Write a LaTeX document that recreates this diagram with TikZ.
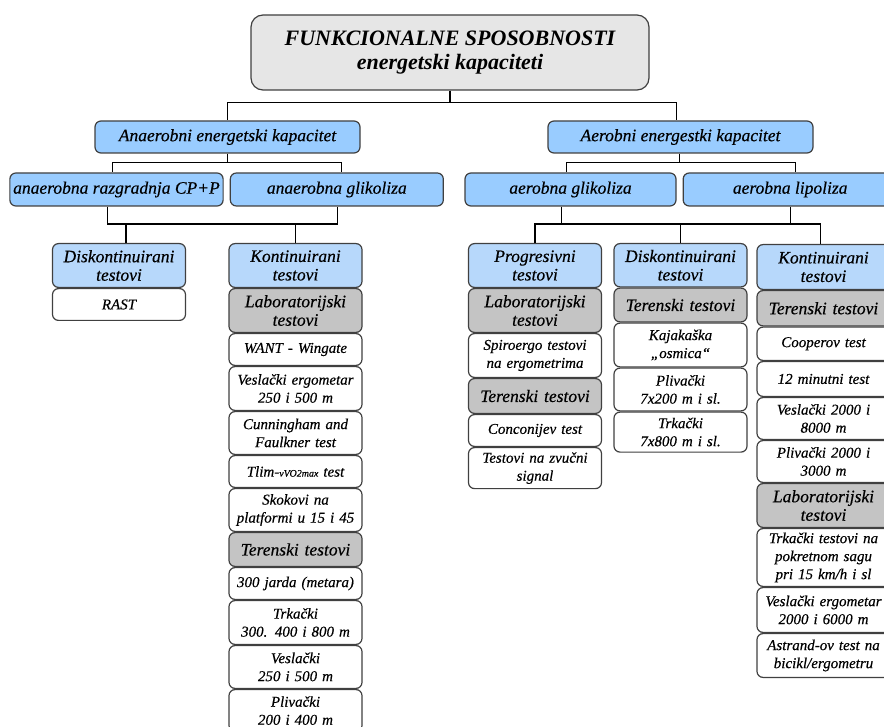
\documentclass[tikz,border=0pt]{standalone}
\usepackage{fontspec}
\setmainfont{Liberation Serif}
\newfontfamily\boxfont{Liberation Serif}[ItalicFeatures={FakeBold=0.4}]
\usetikzlibrary{positioning}
\definecolor{boxline}{HTML}{404040}
\definecolor{topgray}{HTML}{E6E6E6}
\definecolor{capblue}{HTML}{99CCFF}
\definecolor{headblue}{HTML}{B7D8FB}
\definecolor{groupgray}{HTML}{C4C4C4}
\tikzstyle{mainbox} = [rectangle, rounded corners=12pt, minimum width=398pt, minimum height=75pt, align=center, draw=boxline, fill=topgray, line width=1.2pt, font=\bfseries\itshape\fontsize{22}{24}\selectfont]
\tikzstyle{capbox} = [rectangle, rounded corners=6pt, minimum height=32pt, text centered, draw=boxline, fill=capblue, line width=1.2pt, font=\boxfont\itshape\fontsize{17.5}{18.5}\selectfont]
\tikzstyle{testhead} = [rectangle, rounded corners=6pt, minimum height=43.8pt, text width=125pt, inner xsep=4pt, inner ysep=2pt, align=center, draw=boxline, fill=headblue, line width=1.2pt, font=\boxfont\itshape\fontsize{17.5}{18.5}\selectfont]
\tikzstyle{grouphead} = [testhead, fill=groupgray]
\tikzstyle{testbox} = [testhead, fill=white, font=\boxfont\itshape\fontsize{15}{18}\selectfont]
\tikzstyle{link} = [line width=1.2pt, black]

\begin{document}
\begin{tikzpicture}[x=1pt, y=1pt, node distance=0pt]
\useasboundingbox (0,0) rectangle (884,-727);
\clip (0,0) rectangle (884,-727);

\node (top) [mainbox] at (450,-52.5) {FUNKCIONALNE SPOSOBNOSTI\\energetski kapaciteti};

\node (anae) [capbox, minimum width=265pt] at (227.5,-137) {Anaerobni energetski kapacitet};
\node (aero) [capbox, minimum width=265pt] at (680.5,-137) {Aerobni energestki kapacitet};

\node (cp) [capbox, minimum width=211pt, minimum height=33pt] at (116.5,-189.5) {anaerobna razgradnja CP+P};
\node (agl) [capbox, minimum width=213pt, minimum height=33pt, right=6pt of cp] {anaerobna glikoliza};
\node (ragl) [capbox, minimum width=211pt, minimum height=33pt] at (570.5,-189.5) {aerobna glikoliza};
\node (lip) [capbox, minimum width=214pt, minimum height=33pt, right=6pt of ragl] {aerobna lipoliza};

% anaerobni testovi
\node (dk1) [testhead, anchor=north] at (119,-243) {Diskontinuirani\\testovi};
\node (rast) [testbox, minimum height=31.8pt, below=of dk1] {RAST};

\node (kt1) [testhead, anchor=north] at (295.5,-243) {Kontinuirani\\testovi};
\node (lab1) [grouphead, below=of kt1] {Laboratorijski\\testovi};
\node (want) [testbox, minimum height=31.8pt, below=of lab1] {WANT - Wingate};
\node (veslerg) [testbox, below=of want] {Veslački ergometar\\250 i 500 m};
\node (cunn) [testbox, minimum height=42.8pt, below=of veslerg] {Cunningham and\\Faulkner test};
\node (tlim) [testbox, minimum height=31.8pt, below=of cunn] {Tlim-{\fontsize{10}{10}\selectfont vVO2max} test};
\node (skok) [testbox, minimum height=42.8pt, below=of tlim] {Skokovi na\\platformi u 15 i 45};
\node (ter1) [grouphead, minimum height=33.8pt, below=of skok] {Terenski testovi};
\node (jard) [testbox, minimum height=31.8pt, below=of ter1] {300 jarda (metara)};
\node (trk1) [testbox, below=of jard] {Trkački\\300. 400 i 800 m};
\node (vesl1) [testbox, minimum height=42.8pt, below=of trk1] {Veslački\\250 i 500 m};
\node (pliv1) [testbox, minimum height=42pt, below=of vesl1] {Plivački\\200 i 400 m};

% aerobni testovi
\node (prog) [testhead, anchor=north] at (535,-243) {Progresivni\\testovi};
\node (lab2) [grouphead, below=of prog] {Laboratorijski\\testovi};
\node (spir) [testbox, below=of lab2] {Spiroergo testovi\\na ergometrima};
\node (ter2) [grouphead, minimum height=34.8pt, below=of spir] {Terenski testovi};
\node (conc) [testbox, minimum height=31.8pt, below=of ter2] {Conconijev test};
\node (zvuk) [testbox, minimum height=41pt, below=of conc] {Testovi na zvučni\\signal};

\node (dk2) [testhead, minimum height=43.3pt, anchor=north] at (680.5,-243) {Diskontinuirani\\testovi};
\node (ter3) [grouphead, minimum height=33.8pt, below=of dk2] {Terenski testovi};
\node (kaj) [testbox, below=of ter3] {Kajakaška\\„osmica“};
\node (pliv2) [testbox, minimum height=42.8pt, below=of kaj] {Plivački\\7x200 m i sl.};
\node (trk2) [testbox, minimum height=40pt, below=of pliv2] {Trkački\\7x800 m i sl.};

\node (kt2) [testhead, minimum height=44.8pt, anchor=north] at (823.5,-244) {Kontinuirani\\testovi};
\node (ter4) [grouphead, minimum height=35.3pt, below=of kt2] {Terenski testovi};
\node (coop) [testbox, minimum height=33.3pt, below=of ter4] {Cooperov test};
\node (min12) [testbox, minimum height=34.8pt, below=of coop] {12 minutni test};
\node (vesl3) [testbox, minimum height=41.8pt, below=of min12] {Veslački 2000 i\\8000 m};
\node (pliv3) [testbox, minimum height=41.8pt, below=of vesl3] {Plivački 2000 i\\3000 m};
\node (lab3) [grouphead, below=of pliv3] {Laboratorijski\\testovi};
\node (trk3) [testbox, minimum height=57.8pt, below=of lab3] {Trkački testovi na\\pokretnom sagu\\pri 15 km/h i sl};
\node (vesl4) [testbox, minimum height=44.8pt, below=of trk3] {Veslački ergometar\\2000 i 6000 m};
\node (astr) [testbox, below=of vesl4] {Astrand-ov test na\\bicikl/ergometru};

\coordinate (jn) at (0,-224);

\draw [link] (top.south) -- ++(0,-12) -| (anae.north);
\draw [link] (top.south) -- ++(0,-12) -| ([xshift=-4pt]aero.north);
\draw [link] (anae.south) -- ++(0,-9) -| ([xshift=-4pt]cp.north);
\draw [link] (anae.south) -- ++(0,-9) -| ([xshift=5pt]agl.north);
\draw [link] ([xshift=-1pt]aero.south) -- ++(0,-9) -| ([xshift=-4pt]ragl.north);
\draw [link] ([xshift=-1pt]aero.south) -- ++(0,-9) -| ([xshift=5pt]lip.north);

\draw [link] ([xshift=-9pt]cp.south) |- ([xshift=1pt]agl.south |- jn) -- ([xshift=1pt]agl.south);
\draw [link] ([xshift=7pt]dk1.north) -- ([xshift=7pt]dk1.north |- jn);
\draw [link] (kt1.north) -- (kt1.north |- jn);

\draw [link] (prog.north) |- ([xshift=-3pt]kt2.north |- jn) -- ([xshift=-3pt]kt2.north);
\draw [link] ([xshift=-9pt]ragl.south) -- ([xshift=-9pt]ragl.south |- jn);
\draw [link] (lip.south) -- (lip.south |- jn);
\draw [link] (dk2.north) -- (dk2.north |- jn);

\end{tikzpicture}
\end{document}
